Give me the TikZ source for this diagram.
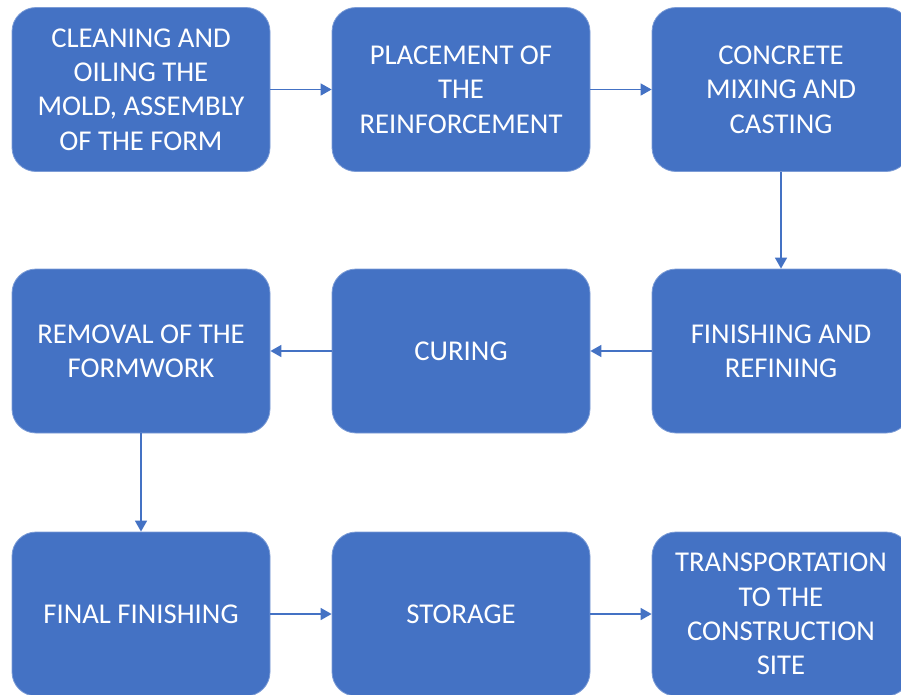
\documentclass[tikz,border=0pt]{standalone}
\usepackage{fontspec}
\setmainfont{Carlito}
\usetikzlibrary{arrows.meta}
\definecolor{obox}{HTML}{4472C4}
\begin{document}
\begin{tikzpicture}[x=1pt,y=-1pt,
  stepbox/.style={fill=obox, draw=obox!70!white, line width=0.8pt, rounded corners=24pt,
    minimum width=258pt, minimum height=164pt, inner sep=0pt, text=white, align=center,
    font=\fontsize{28.7}{34.3}\selectfont},
  flow/.style={draw=obox, line width=1.6pt, -{Triangle[length=11pt,width=12pt]}}]
\useasboundingbox (0,0) rectangle (901,694);
\node[stepbox] (a) at (141,89.5) {CLEANING AND\\OILING THE\\MOLD, ASSEMBLY\\OF THE FORM};
\node[stepbox] (b) at (461,89.5) {PLACEMENT OF\\THE\\REINFORCEMENT};
\node[stepbox] (c) at (781,89.5) {CONCRETE\\MIXING AND\\CASTING};
\node[stepbox] (d) at (781,351) {FINISHING AND\\REFINING};
\node[stepbox] (e) at (461,351) {CURING};
\node[stepbox] (f) at (141,351) {REMOVAL OF THE\\FORMWORK};
\node[stepbox] (g) at (141,614) {FINAL FINISHING};
\node[stepbox] (h) at (461,614) {STORAGE};
\node[stepbox] (i) at (781,614) {TRANSPORTATION\\TO THE\\CONSTRUCTION\\SITE};
\draw[flow] (a) -- (b);
\draw[flow] (b) -- (c);
\draw[flow] (c) -- (d);
\draw[flow] (d) -- (e);
\draw[flow] (e) -- (f);
\draw[flow] (f) -- (g);
\draw[flow] (g) -- (h);
\draw[flow] (h) -- (i);
\end{tikzpicture}
\end{document}
